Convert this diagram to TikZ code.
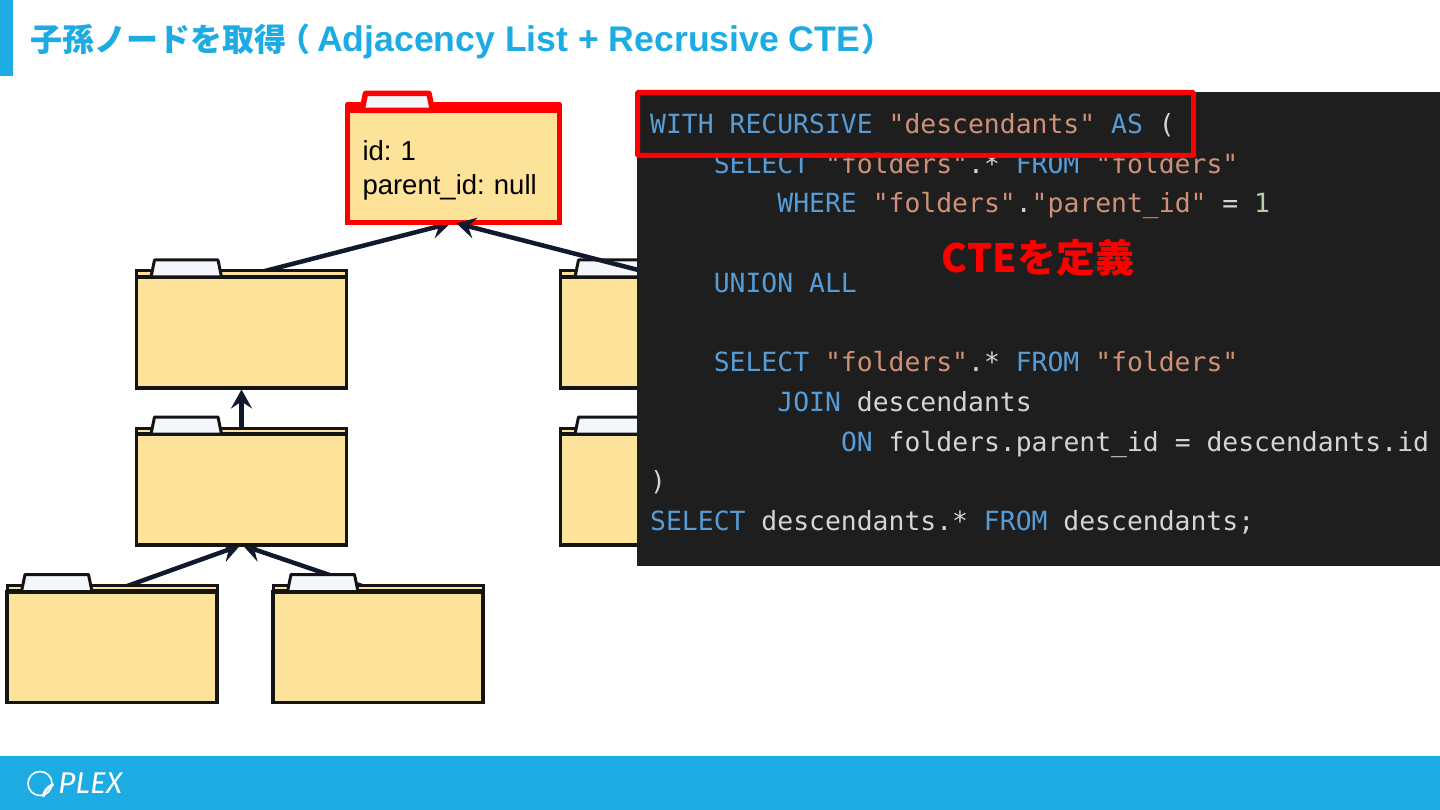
\documentclass[tikz,border=0pt]{standalone}
\usepackage{fontspec}
\setmainfont{Liberation Sans}
\newfontfamily\cjkfont{Noto Sans CJK JP}
\newfontfamily\codefont{DejaVu Sans Mono}
\newfontfamily\logofont{Fira Sans}
\usetikzlibrary{positioning, arrows.meta, backgrounds}

\definecolor{brandblue}{HTML}{1CABE2}
\definecolor{foldyellow}{HTML}{FDE29A}
\definecolor{tabwhite}{HTML}{F3F6FA}
\definecolor{foldline}{HTML}{141414}
\definecolor{arrline}{HTML}{111A2C}
\definecolor{codebg}{HTML}{1E1E1E}
\definecolor{codetext}{HTML}{D4D4D4}
\definecolor{codekw}{HTML}{569CD6}
\definecolor{codestr}{HTML}{CE9178}
\definecolor{codenum}{HTML}{B5CEA8}

\newcommand{\kw}[1]{\textcolor{codekw}{#1}}
\newcommand{\strlit}[1]{\textcolor{codestr}{#1}}
\newcommand{\numlit}[1]{\textcolor{codenum}{#1}}

% strip and tab on top of a folder body
\newcommand{\folderdeco}[3]{
  \draw[#2] (#1.north west) -- ++(0,-6) -| (#1.north east);
  \draw[#2, line width=4.5pt] (#1.north west) -- (#1.north east);
  \draw[#3] (#1.north west) ++(14.5,0) -- ++(3.5,-17) -- ++(63.5,0) -- ++(3.5,17) -- cycle;
}

\begin{document}
\begin{tikzpicture}[
  x=1pt, y=-1pt,
  foldbody/.style={
    rectangle, draw=foldline, fill=foldyellow, line width=3.2pt,
    minimum width=210pt, minimum height=111pt, inner sep=0pt, outer sep=0pt
  },
  rootbody/.style={
    foldbody, draw=red, line width=5pt, minimum width=212pt, minimum height=112pt,
    align=left, font=\fontsize{27.5}{34}\selectfont\frenchspacing
  },
  foldstrip/.style={draw=foldline, fill=foldyellow, line width=3pt},
  foldtab/.style={draw=foldline, fill=tabwhite, line width=3pt, line join=round},
  rootstrip/.style={draw=red, fill=red, line width=5pt, line join=round},
  roottab/.style={draw=red, fill=tabwhite, line width=5.5pt, line join=round},
  arr/.style={-{Stealth[length=19pt, width=21pt, inset=7pt]}, line width=4.5pt, draw=arrline, shorten >=1.5pt},
  codeline/.style={anchor=base west, inner sep=0pt, text=codetext, font=\codefont\fontsize{26.4}{32}\selectfont},
]
\useasboundingbox (0,0) rectangle (1440,810);

%% Header and footer
\node[rectangle, fill=brandblue, anchor=north west, minimum width=13pt, minimum height=76pt, inner sep=0pt] (accent) at (0,0) {};
\node[anchor=base west, inner sep=0pt, text=brandblue, font=\fontsize{35.6}{40}\selectfont\bfseries] (title) at (30,52)
  {{\cjkfont\fontsize{32}{40}\selectfont 子孫ノードを取得\hspace{-8pt}（}\hspace{-3pt} Adjacency List + Recrusive CTE{\cjkfont\fontsize{32}{40}\selectfont\hspace{1pt}）}};
\node[rectangle, fill=brandblue, anchor=north west, minimum width=1440pt, minimum height=54pt, inner sep=0pt] (footer) at (0,756) {};
\node[circle, draw=white, line width=1.6pt, minimum size=24pt, inner sep=0pt] (logoring) at (40,783.5) {};
\draw[white, line width=3pt, line cap=round] (logoring.-5) to[bend right=22] (logoring.-75);
\node[anchor=base west, inner sep=0pt, text=white, font=\logofont\itshape\fontsize{30}{30}\selectfont] (logotext) at (58,793) {PLEX};

%% Folder tree
\node[rootbody, anchor=north west, text width=182pt] (root) at (347.5,110.5) {\rule{0pt}{27pt}id: 1\\parent\_id: null};
\node[foldbody, anchor=north west] (topA) at (136.5,277) {};
\node[foldbody, right=214pt of topA] (topB) {};
\node[foldbody, below=46pt of topA] (midA) {};
\node[foldbody, below=46pt of topB] (midB) {};
\node[foldbody, below=46.5pt of midA, xshift=-129.5pt] (leafA) {};
\node[foldbody, below=46.5pt of midA, xshift=136.5pt] (leafB) {};

\folderdeco{root}{rootstrip}{roottab}
\folderdeco{topA}{foldstrip}{foldtab}
\folderdeco{topB}{foldstrip}{foldtab}
\folderdeco{midA}{foldstrip}{foldtab}
\folderdeco{midB}{foldstrip}{foldtab}
\folderdeco{leafA}{foldstrip}{foldtab}
\folderdeco{leafB}{foldstrip}{foldtab}

%% Arrows
\begin{scope}[on background layer]
\draw[arr, shorten >=3pt] (topA.north) -- (root.south);
\draw[arr] (midA.north) -- (topA.south);
\draw[arr] (leafA.north) -- (midA.south);
\draw[arr] (leafB.north) -- (midA.south);
\end{scope}
\draw[arr, shorten >=3pt] (topB.north) -- (root.south);

%% Code panel
\node[rectangle, fill=codebg, anchor=north west, minimum width=803pt, minimum height=474pt, inner sep=0pt] (panel) at (637,92) {};
\node[codeline] (line1) at (650,133.5) {\kw{WITH RECURSIVE} \strlit{"descendants"} \kw{AS} (};
\node[codeline] (line2) at (713.6,173.5) {\kw{SELECT} \strlit{"folders"}.* \kw{FROM} \strlit{"folders"}};
\node[codeline] (line3) at (777.2,213) {\kw{WHERE} \strlit{"folders"}.\strlit{"parent\_id"} = \numlit{1}};
\node[codeline] (line4) at (713.6,292.5) {\kw{UNION ALL}};
\node[codeline] (line5) at (713.6,371.5) {\kw{SELECT} \strlit{"folders"}.* \kw{FROM} \strlit{"folders"}};
\node[codeline] (line6) at (777.2,411.5) {\kw{JOIN} descendants};
\node[codeline] (line7) at (840.8,451) {\kw{ON} folders.parent\_id = descendants.id};
\node[codeline] (line8) at (650,490.5) {)};
\node[codeline] (line9) at (650,530.5) {\kw{SELECT} descendants.* \kw{FROM} descendants;};

%% Highlight
\node[rectangle, draw=red, line width=5pt, rounded corners=1pt, anchor=north west, minimum width=556pt, minimum height=63pt, inner sep=0pt] (hilite) at (635,90) {};
\node[text=red, inner sep=0pt, font=\cjkfont\bfseries\fontsize{39}{40}\selectfont] (ctelabel) at (1038,258) {CTEを定義};

\end{tikzpicture}
\end{document}
